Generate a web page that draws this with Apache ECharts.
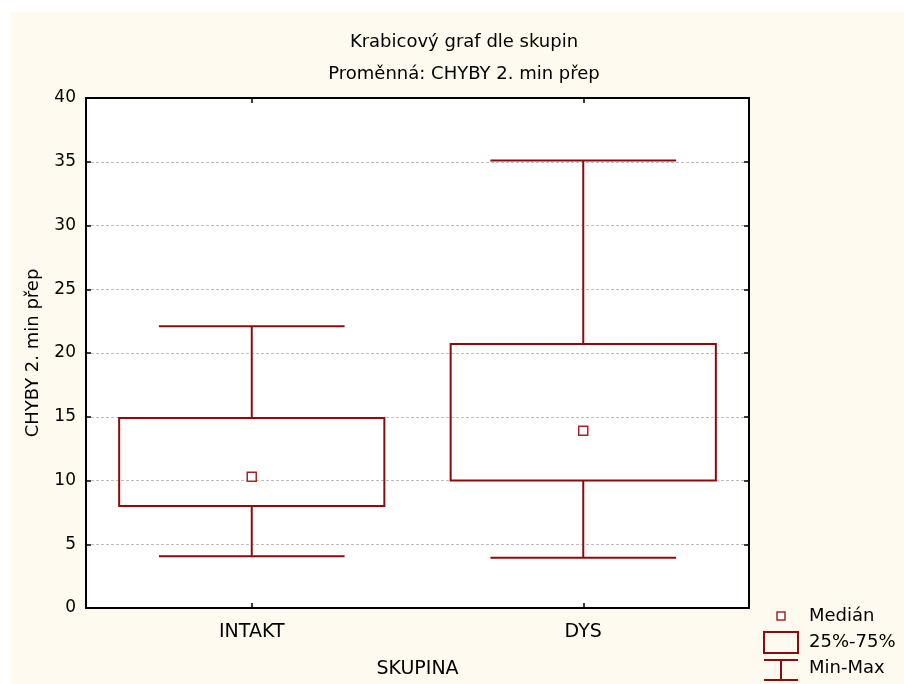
<!DOCTYPE html>
<html><head><meta charset="utf-8">
<script src="https://cdn.jsdelivr.net/npm/echarts@6/dist/echarts.min.js"></script>
<style>
html,body{margin:0;padding:0;background:#ffffff;}
#bg{position:absolute;left:11px;top:12px;width:893px;height:672px;background:#fffaef;}
#chart{position:absolute;left:0;top:0;width:904px;height:684px;}
</style></head>
<body><div id="bg"></div><div id="chart"></div>
<script>
const categories = ['INTAKT', 'DYS'];
const minValues = [4.05, 3.95];
const q1Values = [8.0, 10.0];
const medianValues = [10.3, 13.9];
const q3Values = [14.9, 20.7];
const maxValues = [22.1, 35.1];
const titleText = 'Krabicový graf dle skupin';
const subtitleText = 'Proměnná: CHYBY 2. min přep';
const yAxisName = 'CHYBY 2. min přep';
const xAxisName = 'SKUPINA';
const legendLabels = ['Medián', '25%-75%', 'Min-Max'];

const RED = '#8b0c0c';
const FONT = 'DejaVu Sans';

const boxData = categories.map((c, i) => [i, minValues[i], q1Values[i], medianValues[i], q3Values[i], maxValues[i]]);
const medianData = categories.map((c, i) => [i, medianValues[i]]);

function renderBox(params, api) {
  const x = api.value(0);
  const band = api.size([1, 0])[0];
  const pMin = api.coord([x, api.value(1)]);
  const pQ1 = api.coord([x, api.value(2)]);
  const pQ3 = api.coord([x, api.value(4)]);
  const pMax = api.coord([x, api.value(5)]);
  const bh = band * 0.4, ch = band * 0.28;
  const st = { stroke: RED, lineWidth: 2, fill: null };
  return {
    type: 'group',
    children: [
      { type: 'line', shape: { x1: pMax[0], y1: pMax[1], x2: pQ3[0], y2: pQ3[1] }, style: st },
      { type: 'line', shape: { x1: pQ1[0], y1: pQ1[1], x2: pMin[0], y2: pMin[1] }, style: st },
      { type: 'line', shape: { x1: pMax[0] - ch, y1: pMax[1], x2: pMax[0] + ch, y2: pMax[1] }, style: st },
      { type: 'line', shape: { x1: pMin[0] - ch, y1: pMin[1], x2: pMin[0] + ch, y2: pMin[1] }, style: st },
      { type: 'rect', shape: { x: pQ3[0] - bh, y: pQ3[1], width: 2 * bh, height: pQ1[1] - pQ3[1] }, style: { stroke: RED, lineWidth: 2, fill: 'rgba(0,0,0,0)' } }
    ]
  };
}

const axisLineStyle = { show: true, onZero: false, lineStyle: { color: '#000', width: 2 } };
const tickStyle = { show: true, inside: true, length: 5, lineStyle: { color: '#000', width: 1.5 } };
const textBase = { fontFamily: FONT, color: '#000' };

const chart = echarts.init(document.getElementById('chart'), null, { renderer: 'canvas' });
chart.setOption({
  backgroundColor: 'transparent',
  animation: false,
  title: {
    text: titleText,
    subtext: subtitleText,
    left: 464,
    textAlign: 'center',
    top: 33,
    itemGap: 14,
    padding: 0,
    textStyle: Object.assign({ fontSize: 18, fontWeight: 'normal' }, textBase),
    subtextStyle: Object.assign({ fontSize: 18 }, textBase)
  },
  grid: { left: 86, top: 98, width: 663, height: 510, show: true, backgroundColor: '#ffffff', borderWidth: 0 },
  xAxis: [
    {
      type: 'category', data: categories, position: 'bottom', boundaryGap: true,
      axisLine: axisLineStyle, axisTick: Object.assign({ alignWithLabel: true }, tickStyle),
      axisLabel: Object.assign({ fontSize: 19, margin: 15 }, textBase),
      splitLine: { show: false },
      name: xAxisName, nameLocation: 'middle', nameGap: 52,
      nameTextStyle: Object.assign({ fontSize: 19 }, textBase)
    },
    {
      type: 'category', data: categories, position: 'top', boundaryGap: true,
      axisLine: axisLineStyle, axisTick: Object.assign({ alignWithLabel: true }, tickStyle),
      axisLabel: { show: false }, splitLine: { show: false }
    }
  ],
  yAxis: [
    {
      type: 'value', min: 0, max: 40, interval: 5, position: 'left',
      axisLine: axisLineStyle, axisTick: tickStyle,
      axisLabel: Object.assign({ fontSize: 17, margin: 10 }, textBase),
      splitLine: { show: true, lineStyle: { color: '#bdbdbd', type: [3, 2], width: 1 } },
      name: yAxisName, nameLocation: 'middle', nameGap: 44,
      nameTextStyle: Object.assign({ fontSize: 18 }, textBase)
    },
    {
      type: 'value', min: 0, max: 40, interval: 5, position: 'right',
      axisLine: axisLineStyle, axisTick: tickStyle,
      axisLabel: { show: false }, splitLine: { show: false }
    }
  ],
  series: [
    {
      name: legendLabels[1], type: 'custom', xAxisIndex: 0, yAxisIndex: 0,
      renderItem: renderBox, data: boxData, z: 3
    },
    {
      name: legendLabels[0], type: 'scatter', xAxisIndex: 0, yAxisIndex: 0,
      data: medianData, symbol: 'rect', symbolSize: 9, z: 4,
      itemStyle: { color: '#ffffff', borderColor: '#9c2a2a', borderWidth: 1.5, opacity: 1 }
    }
  ],
  graphic: [
    { type: 'rect', shape: { x: 777, y: 612, width: 8, height: 8 }, style: { fill: '#fff', stroke: '#9c2a2a', lineWidth: 1.5 } },
    { type: 'text', x: 809, y: 616, style: { text: legendLabels[0], fontSize: 18, fontFamily: FONT, fill: '#000', verticalAlign: 'middle' } },
    { type: 'rect', shape: { x: 764, y: 632, width: 34, height: 21 }, style: { fill: 'rgba(0,0,0,0)', stroke: RED, lineWidth: 2 } },
    { type: 'text', x: 809, y: 642, style: { text: legendLabels[1], fontSize: 18, fontFamily: FONT, fill: '#000', verticalAlign: 'middle' } },
    { type: 'line', shape: { x1: 764, y1: 660, x2: 798, y2: 660 }, style: { stroke: RED, lineWidth: 2 } },
    { type: 'line', shape: { x1: 781, y1: 660, x2: 781, y2: 680 }, style: { stroke: RED, lineWidth: 2 } },
    { type: 'line', shape: { x1: 764, y1: 680, x2: 798, y2: 680 }, style: { stroke: RED, lineWidth: 2 } },
    { type: 'text', x: 809, y: 668, style: { text: legendLabels[2], fontSize: 18, fontFamily: FONT, fill: '#000', verticalAlign: 'middle' } }
  ]
});
</script>
</body></html>
